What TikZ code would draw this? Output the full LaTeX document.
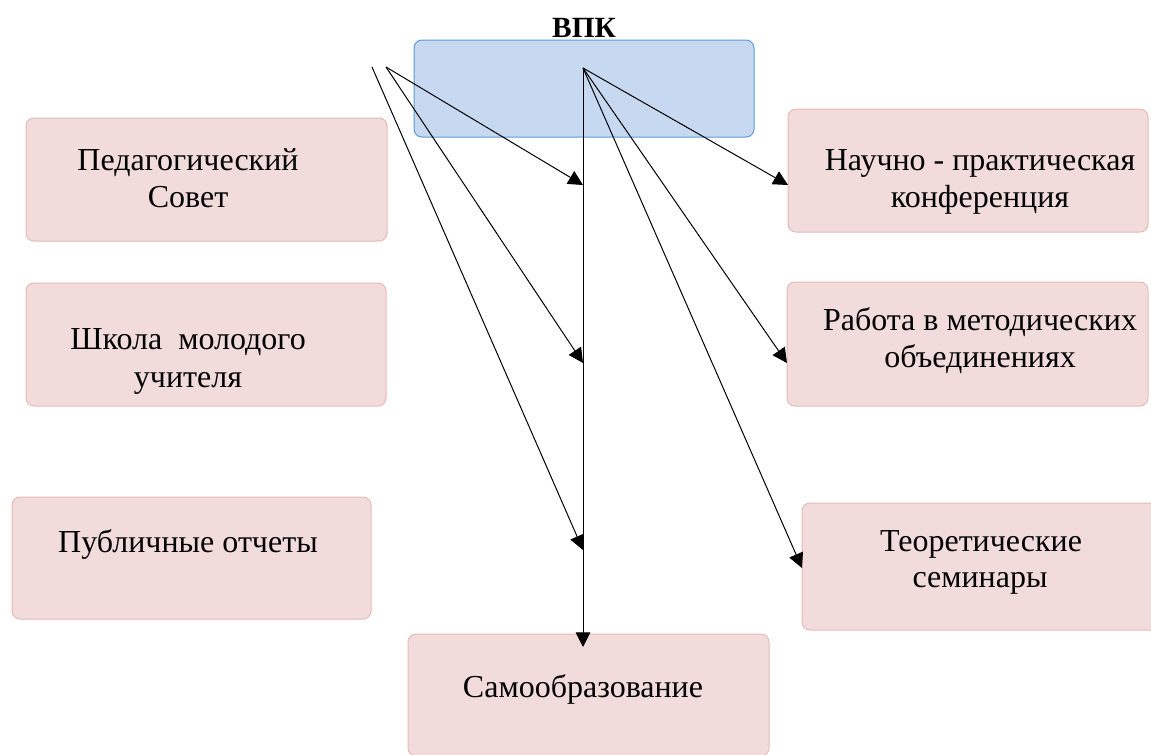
\documentclass[tikz,border=0pt]{standalone}
\usepackage{fontspec}
\setmainfont{Liberation Serif}
\usetikzlibrary{arrows.meta,fit}
\definecolor{pinkfill}{HTML}{F2DCDB}
\definecolor{pinkdraw}{HTML}{E6B9B8}
\definecolor{bluefill}{HTML}{C6D9F1}
\definecolor{bluedraw}{HTML}{5B9BD5}
\tikzset{
  pinkbox/.style={draw=pinkdraw, fill=pinkfill, line width=0.75pt, rounded corners=6pt, inner sep=0pt},
  bluebox/.style={draw=bluedraw, fill=bluefill, line width=0.75pt, rounded corners=6pt, inner sep=0pt},
  txt/.style={anchor=base, inner sep=0pt, font=\fontsize{24}{28}\selectfont},
  ttl/.style={anchor=base, inner sep=0pt, font=\fontsize{22}{26}\selectfont\bfseries},
  arr/.style={draw=black, line width=0.75pt, -{Triangle[length=11pt,width=11pt]}}
}
\begin{document}
\begin{tikzpicture}[x=0.75pt,y=-0.75pt]
\clip (0,0) rectangle (1151,754);
\fill[white] (0,0) rectangle (1151,754);
% boxes
\node[bluebox, fit={(414,40) (754,137)}] (vpk) {};
\node[pinkbox, fit={(26,118) (387,241)}] (ped) {};
\node[pinkbox, fit={(26,283) (386,406)}] (shk) {};
\node[pinkbox, fit={(12,497) (371,619)}] (pub) {};
\node[pinkbox, fit={(408,634) (769,756)}] (sam) {};
\node[pinkbox, fit={(788,109) (1148,232)}] (nau) {};
\node[pinkbox, fit={(787,282) (1148,406)}] (rab) {};
\node[pinkbox, fit={(802,503) (1162,630)}] (teo) {};
% texts
\node[ttl] (vpkt) at (584,37) {ВПК};
\node[txt] (ped1) at (188,170) {Педагогический};
\node[txt] (ped2) at (188,207) {Совет};
\node[txt] (shk1) at (188,349) {Школа\ \ молодого};
\node[txt] (shk2) at (188,387) {учителя};
\node[txt] (pub1) at (188,552) {Публичные отчеты};
\node[txt] (sam1) at (583,697) {Самообразование};
\node[txt] (nau1) at (980,170) {Научно - практическая};
\node[txt] (nau2) at (980,207) {конференция};
\node[txt] (rab1) at (980,330) {Работа в методических};
\node[txt] (rab2) at (980,367) {объединениях};
\node[txt] (teo1) at (981,551) {Теоретические};
\node[txt] (teo2) at (980,587) {семинары};
% connector points
\coordinate (hub) at (583,68);
\coordinate (l1) at (372,67);
\coordinate (l2) at (386,67);
\coordinate (v1) at (583,185);
\coordinate (v2) at (583,363);
\coordinate (v3) at (583,550);
\coordinate (samtop) at (583,647);
\coordinate (nauin) at (788,185);
\coordinate (rabin) at (787,363);
\coordinate (teoin) at (802,568);
% connectors
\draw[arr] (hub) -- (samtop);
\draw[arr] (l2) -- (v1);
\draw[arr] (l2) -- (v2);
\draw[arr] (l1) -- (v3);
\draw[arr] (hub) -- (nauin);
\draw[arr] (hub) -- (rabin);
\draw[arr] (hub) -- (teoin);
\end{tikzpicture}
\end{document}
